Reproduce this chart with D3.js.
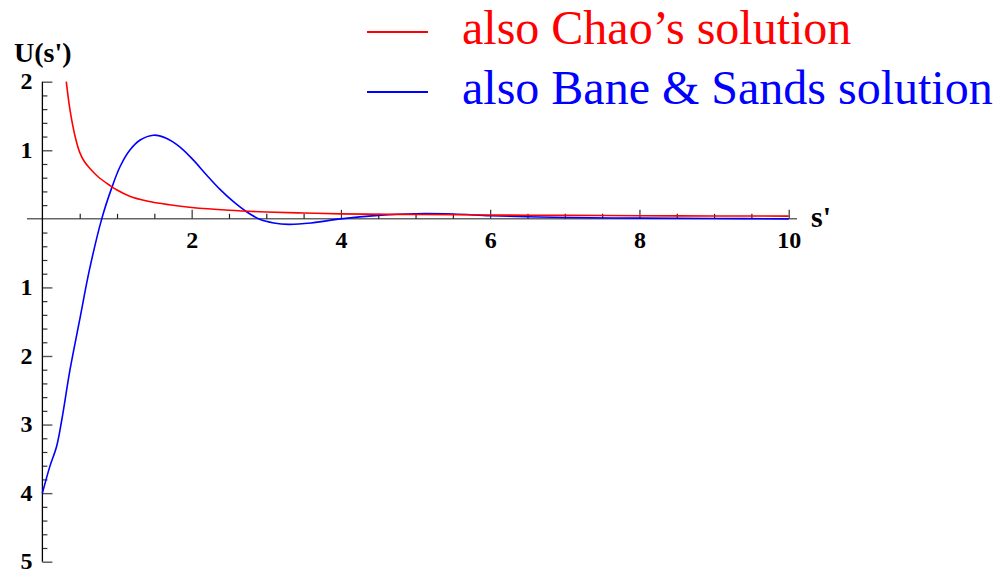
<!DOCTYPE html>
<html>
<head>
<meta charset="utf-8">
<script src="https://cdn.jsdelivr.net/npm/d3@7"></script>
<style>
  html, body { margin: 0; padding: 0; background: #fff; }
  svg { display: block; }
</style>
</head>
<body>
<script>
// ---- data ----
const chaoS = [0.32, 0.36, 0.40, 0.45, 0.50, 0.56, 0.64, 0.75, 0.90, 1.0, 1.17, 1.4, 1.7, 2.0, 2.5, 3.0, 3.5, 4.0, 5.0, 6.0, 7.0, 8.0, 9.0, 10.0];
const chaoU = [2.0, 1.66, 1.40, 1.15, 0.97, 0.84, 0.73, 0.61, 0.49, 0.42, 0.33, 0.26, 0.205, 0.165, 0.125, 0.10, 0.085, 0.073, 0.063, 0.056, 0.05, 0.046, 0.042, 0.04];

const baneS = [0.0, 0.10, 0.19, 0.26, 0.37, 0.50, 0.63, 0.795, 0.93, 1.04, 1.17, 1.31, 1.49, 1.66, 1.84, 2.02, 2.20, 2.38, 2.56, 2.74, 2.92, 3.10, 3.30, 3.6, 4.0, 4.5, 5.0, 5.5, 6.0, 6.5, 7.0, 8.0, 9.0, 10.0];
const baneU = [-4.0, -3.61, -3.32, -2.93, -2.20, -1.47, -0.745, 0.0, 0.455, 0.76, 1.0, 1.15, 1.22, 1.175, 1.05, 0.86, 0.64, 0.43, 0.25, 0.10, -0.01, -0.06, -0.08, -0.06, 0.0, 0.05, 0.075, 0.07, 0.045, 0.03, 0.02, 0.01, 0.005, 0.0];

const xMajorTicks = [2, 4, 6, 8, 10];
const xTickLabels = ["2", "4", "6", "8", "10"];
const xMinorTicks = [0.5, 1, 1.5, 2.5, 3, 3.5, 4.5, 5, 5.5, 6.5, 7, 7.5, 8.5, 9, 9.5];
const yMajorTicks = [-5, -4, -3, -2, -1, 1, 2];
const yTickLabels = ["5", "4", "3", "2", "1", "1", "2"];
const yMinorTicks = d3.range(-5, 2.001, 0.2).map(v => +v.toFixed(1)).filter(v => Math.abs(v - Math.round(v)) > 1e-6);

const seriesNames = ["also Chao\u2019s solution", "also Bane & Sands solution"];
const seriesColors = ["#ff0000", "#0000ff"];

// ---- layout ----
const W = 996, H = 571;
const x = d3.scaleLinear().domain([0, 10]).range([42.4, 788.7]);
const y = d3.scaleLinear().domain([-5, 2]).range([561.7, 81.7]);

const svg = d3.select("body").append("svg").attr("width", W).attr("height", H);
const fontSerif = "'Liberation Serif', 'Times New Roman', Times, serif";

// x axis line
svg.append("line")
  .attr("x1", 27).attr("x2", 797)
  .attr("y1", y(0)).attr("y2", y(0))
  .attr("stroke", "#666").attr("stroke-width", 1.5);

// x minor ticks
const gxMinor = svg.append("g").attr("transform", `translate(0,${y(0)})`)
  .call(d3.axisTop(x).tickValues(xMinorTicks).tickSize(5).tickFormat(""));
gxMinor.select(".domain").remove();
gxMinor.selectAll(".tick line").attr("stroke", "#222").attr("stroke-width", 1.2);

// x major ticks
const gxMajor = svg.append("g").attr("transform", `translate(0,${y(0)})`)
  .call(d3.axisTop(x).tickValues(xMajorTicks).tickSize(9).tickFormat(""));
gxMajor.select(".domain").remove();
gxMajor.selectAll(".tick line").attr("stroke", "#333").attr("stroke-width", 1.2);

// x labels
const gxLab = svg.append("g").attr("transform", `translate(0,${y(0)})`)
  .call(d3.axisBottom(x).tickValues(xMajorTicks).tickSize(0).tickPadding(12)
    .tickFormat((d, i) => xTickLabels[i]));
gxLab.select(".domain").remove();
gxLab.selectAll("text").attr("font-family", fontSerif).attr("font-weight", "bold")
  .attr("font-size", 24).attr("fill", "#000");

// y axis minor ticks
const gyMinor = svg.append("g").attr("transform", `translate(${x(0)},0)`)
  .call(d3.axisRight(y).tickValues(yMinorTicks).tickSize(5).tickFormat(""));
gyMinor.select(".domain").remove();
gyMinor.selectAll(".tick line").attr("stroke", "#333").attr("stroke-width", 1.2);

// y major ticks
const gyMajor = svg.append("g").attr("transform", `translate(${x(0)},0)`)
  .call(d3.axisRight(y).tickValues(yMajorTicks).tickSize(10).tickFormat(""));
gyMajor.select(".domain").remove();
gyMajor.selectAll(".tick line").attr("stroke", "#555").attr("stroke-width", 1.4);

// y labels
const gyLab = svg.append("g").attr("transform", `translate(${x(0)},0)`)
  .call(d3.axisLeft(y).tickValues(yMajorTicks).tickSize(0).tickPadding(10)
    .tickFormat((d, i) => yTickLabels[i]));
gyLab.select(".domain").remove();
gyLab.selectAll("text").attr("font-family", fontSerif).attr("font-weight", "bold")
  .attr("font-size", 24).attr("fill", "#000").attr("dy", "0.3em");

// y axis line
svg.append("line")
  .attr("x1", x(0)).attr("x2", x(0))
  .attr("y1", y(2)).attr("y2", y(-5))
  .attr("stroke", "#000").attr("stroke-width", 1.3);

// axis titles
svg.append("text").attr("x", 14).attr("y", 62)
  .attr("font-family", fontSerif).attr("font-weight", "bold").attr("font-size", 28)
  .text("U(s')");
svg.append("text").attr("x", 811).attr("y", 227)
  .attr("font-family", fontSerif).attr("font-weight", "bold").attr("font-size", 30)
  .text("s'");

// curves
const line = d3.line().x(d => x(d[0])).y(d => y(d[1])).curve(d3.curveCatmullRom.alpha(0.5));
const baneData = baneS.map((s, i) => [s, baneU[i]]);
const chaoData = chaoS.map((s, i) => [s, chaoU[i]]);

svg.append("path").datum(baneData).attr("d", line)
  .attr("fill", "none").attr("stroke", seriesColors[1]).attr("stroke-width", 1.6);
svg.append("path").datum(chaoData).attr("d", line)
  .attr("fill", "none").attr("stroke", seriesColors[0]).attr("stroke-width", 1.6);

// legend
const legY = [32, 92];
seriesNames.forEach((name, i) => {
  svg.append("line").attr("x1", 367).attr("x2", 428)
    .attr("y1", legY[i]).attr("y2", legY[i])
    .attr("stroke", seriesColors[i]).attr("stroke-width", 2);
  svg.append("text").attr("x", 462).attr("y", legY[i] + 12)
    .attr("font-family", fontSerif).attr("font-size", 48)
    .attr("fill", seriesColors[i]).text(name);
});
</script>
</body>
</html>
